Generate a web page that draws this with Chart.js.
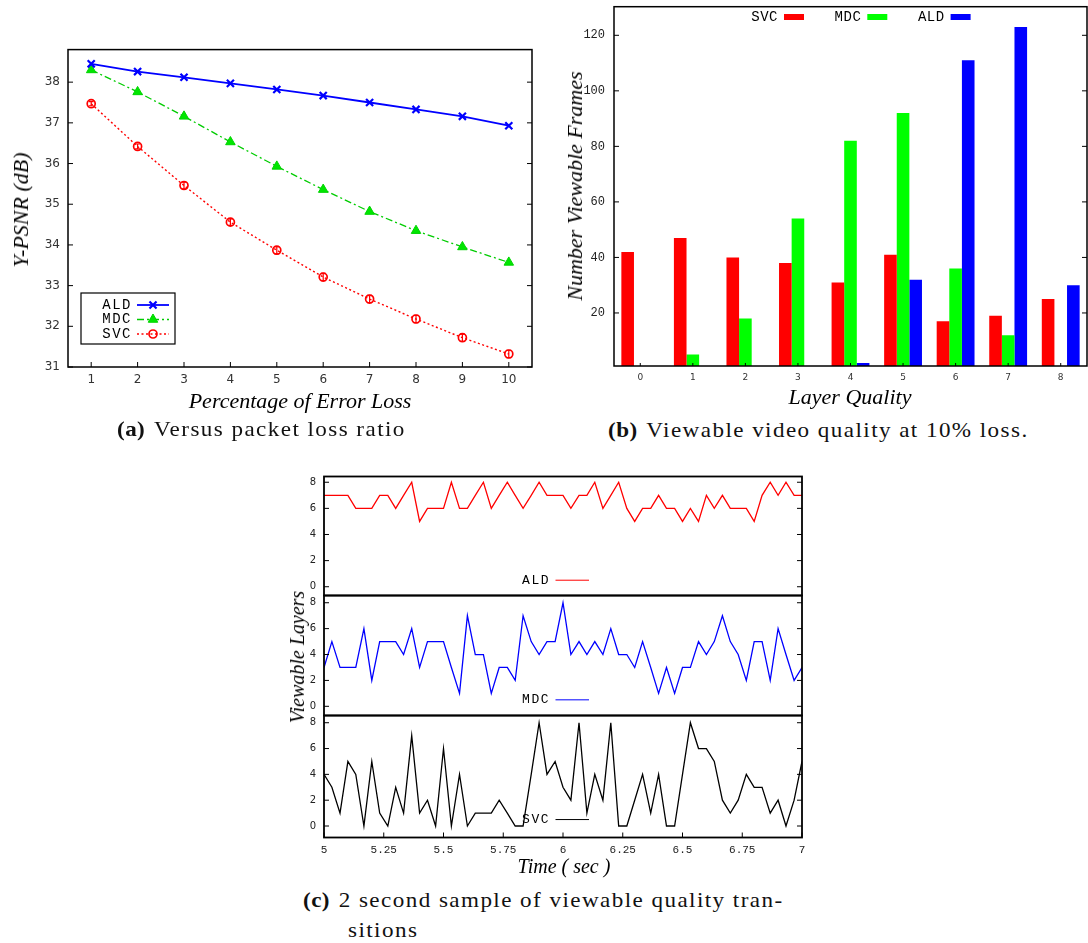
<!DOCTYPE html>
<html>
<head>
<meta charset="utf-8">
<title>Layered video quality under loss</title>
<script src="https://cdn.jsdelivr.net/npm/chart.js@4.4.1/dist/chart.umd.min.js"></script>
<style>
  body { margin: 0; background: #fff; }
  #page { position: relative; width: 1088px; height: 943px; overflow: hidden; }
  canvas { position: absolute; }
  .title { position: absolute; font-family: "Liberation Serif", serif; font-style: italic; white-space: nowrap; color: #000; line-height: 1; transform: translate(-50%, -50%); }
  .title.v { transform: translate(-50%, -50%) rotate(-90deg); }
  .cap { position: absolute; font-family: "Liberation Serif", serif; font-size: 21px; line-height: 1; letter-spacing: 1.3px; white-space: nowrap; color: #111; transform: scaleX(1.1); transform-origin: 0 0; }
  .cap b { letter-spacing: 0.4px; margin-right: 8px; }
</style>
</head>
<body>
<div id="page">
  <canvas id="psnr" width="545" height="370" style="left:0;top:40px"></canvas>
  <canvas id="frames" width="528" height="410" style="left:560px;top:0"></canvas>
  <canvas id="layers" width="530" height="400" style="left:280px;top:470px"></canvas>

  <div class="title v" style="left:21px;top:210px;font-size:22px">Y-PSNR (dB)</div>
  <div class="title" style="left:300px;top:401px;font-size:22px">Percentage of Error Loss</div>
  <div class="title v" style="left:575px;top:186px;font-size:22px">Number Viewable Frames</div>
  <div class="title" style="left:850px;top:397px;font-size:22px">Layer Quality</div>
  <div class="title v" style="left:297px;top:657px;font-size:20px">Viewable Layers</div>
  <div class="title" style="left:564px;top:866px;font-size:20px">Time ( sec )</div>

  <div class="cap" style="left:117px;top:419px"><b>(a)</b>Versus packet loss ratio</div>
  <div class="cap" style="left:608px;top:420px"><b>(b)</b>Viewable video quality at 10% loss.</div>
  <div class="cap" style="left:303px;top:890px"><b>(c)</b>2 second sample of viewable quality tran-</div>
  <div class="cap" style="left:348px;top:920px">sitions</div>
</div>

<script>
// (a) Y-PSNR against error loss
const lossPct = [1, 2, 3, 4, 5, 6, 7, 8, 9, 10];
const psnrALD = [38.45, 38.26, 38.12, 37.97, 37.82, 37.67, 37.50, 37.33, 37.16, 36.93];
const psnrMDC = [38.30, 37.76, 37.16, 36.53, 35.93, 35.36, 34.82, 34.35, 33.95, 33.57];
const psnrSVC = [37.47, 36.42, 35.46, 34.56, 33.87, 33.21, 32.67, 32.18, 31.72, 31.32];
const psnrSVCErr = [0.05, 0.06, 0.08, 0.08, 0.09, 0.09, 0.09, 0.09, 0.09, 0.09];
const psnrTicks = [31, 32, 33, 34, 35, 36, 37, 38];

// (b) viewable frames per layer at 10% loss
const layerQuality = ['0', '1', '2', '3', '4', '5', '6', '7', '8'];
const framesSVC = [42, 47, 40, 38, 31, 41, 17, 19, 25];
const framesMDC = [0, 5, 18, 54, 82, 92, 36, 12, 0];
const framesALD = [0, 0, 0, 0, 2, 32, 111, 123, 30];
const frameTicks = [20, 40, 60, 80, 100, 120];

// (c) viewable layers over a 2 second window
const sampleTimes = [
  5.000, 5.033, 5.067, 5.100, 5.133, 5.167, 5.200, 5.233, 5.267, 5.300,
  5.333, 5.367, 5.400, 5.433, 5.467, 5.500, 5.533, 5.567, 5.600, 5.633,
  5.667, 5.700, 5.733, 5.767, 5.800, 5.833, 5.867, 5.900, 5.933, 5.967,
  6.000, 6.033, 6.067, 6.100, 6.133, 6.167, 6.200, 6.233, 6.267, 6.300,
  6.333, 6.367, 6.400, 6.433, 6.467, 6.500, 6.533, 6.567, 6.600, 6.633,
  6.667, 6.700, 6.733, 6.767, 6.800, 6.833, 6.867, 6.900, 6.933, 6.967,
  7.000
];
const layersALD = [
  7, 7, 7, 7, 6, 6, 6, 7, 7, 6,
  7, 8, 5, 6, 6, 6, 8, 6, 6, 7,
  8, 6, 7, 8, 7, 6, 7, 8, 7, 7,
  7, 6, 7, 7, 8, 6, 7, 8, 6, 5,
  6, 6, 7, 6, 6, 5, 6, 5, 7, 6,
  7, 6, 6, 6, 5, 7, 8, 7, 8, 7,
  7
];
const layersMDC = [
  3, 5, 3, 3, 3, 6, 2, 5, 5, 5,
  4, 6, 3, 5, 5, 5, 3, 1, 7, 4,
  4, 1, 3, 3, 2, 7, 5, 4, 5, 5,
  8, 4, 5, 4, 5, 4, 6, 4, 4, 3,
  5, 3, 1, 3, 1, 3, 3, 5, 4, 5,
  7, 5, 4, 2, 5, 5, 2, 6, 4, 2,
  3
];
const layersSVC = [
  4, 3, 1, 5, 4, 0, 5, 1, 0, 3,
  1, 7, 1, 2, 0, 6, 0, 4, 0, 1,
  1, 1, 2, 1, 0, 0, 4, 8, 4, 5,
  3, 2, 8, 1, 4, 2, 8, 0, 0, 2,
  4, 1, 4, 0, 0, 4, 8, 6, 6, 5,
  2, 1, 2, 4, 3, 3, 1, 2, 0, 2,
  5
];
const timeTicks = [5, 5.25, 5.5, 5.75, 6, 6.25, 6.5, 6.75, 7];
const layerTicks = [0, 2, 4, 6, 8];

const RED = '#ff0000', GREEN = '#00ff00', BLUE = '#0000ff';

Chart.defaults.animation = false;
Chart.defaults.color = '#222';

function points(xs, ys) {
  return xs.map((x, i) => ({ x: x, y: ys[i] }));
}
function fixedTicks(list) {
  return s => { s.ticks = list.map(v => ({ value: v })); };
}
// fixed axis thickness, and no extra room for labels hanging past the ends
function axisSize(size) {
  return s => {
    if (s.isHorizontal()) s.height = size; else s.width = size;
    s.paddingTop = s.paddingBottom = s.paddingLeft = s.paddingRight = 0;
  };
}

// gnuplot style box: border round every y panel, ticks pointing inwards
const frame = {
  id: 'frame',
  afterDatasetsDraw(chart, args, opts) {
    const ctx = chart.ctx, a = chart.chartArea;
    ctx.save();
    ctx.strokeStyle = '#000';
    ctx.lineWidth = 1;
    Object.values(chart.scales).forEach(s => {
      s.ticks.forEach(t => {
        const p = s.getPixelForValue(t.value);
        ctx.beginPath();
        if (s.isHorizontal()) {
          ctx.moveTo(p, a.bottom);
          ctx.lineTo(p, a.bottom - opts.xLen);
        } else {
          ctx.moveTo(a.left, p);
          ctx.lineTo(a.left + opts.yLen, p);
          ctx.moveTo(a.right, p);
          ctx.lineTo(a.right - opts.yLen, p);
        }
        ctx.stroke();
      });
    });
    ctx.lineWidth = opts.border;
    Object.values(chart.scales).forEach(s => {
      if (!s.isHorizontal()) ctx.strokeRect(a.left, s.top, a.right - a.left, s.bottom - s.top);
    });
    ctx.restore();
  }
};

const errorBars = {
  id: 'errorBars',
  afterDatasetsDraw(chart) {
    const ctx = chart.ctx, x = chart.scales.x, y = chart.scales.y;
    chart.data.datasets.forEach(ds => {
      if (!ds.errors) return;
      ctx.save();
      ctx.strokeStyle = ds.borderColor;
      ctx.lineWidth = 1.2;
      ds.data.forEach((p, j) => {
        const px = x.getPixelForValue(p.x);
        const lo = y.getPixelForValue(p.y - ds.errors[j]);
        const hi = y.getPixelForValue(p.y + ds.errors[j]);
        ctx.beginPath();
        ctx.moveTo(px, lo); ctx.lineTo(px, hi);
        ctx.moveTo(px - 2.5, lo); ctx.lineTo(px + 2.5, lo);
        ctx.moveTo(px - 2.5, hi); ctx.lineTo(px + 2.5, hi);
        ctx.stroke();
      });
      ctx.restore();
    });
  }
};

// boxed key: label, line sample and marker
const psnrKey = {
  id: 'psnrKey',
  afterDraw(chart) {
    const ctx = chart.ctx;
    ctx.save();
    ctx.fillStyle = '#fff';
    ctx.fillRect(81, 253, 94, 51);
    ctx.strokeStyle = '#000';
    ctx.lineWidth = 1.2;
    ctx.strokeRect(81, 253, 94, 51);
    ctx.font = '14px "Liberation Mono"';
    ctx.letterSpacing = '1.5px';
    ctx.textAlign = 'right';
    ctx.textBaseline = 'middle';
    chart.data.datasets.forEach((ds, i) => {
      const y = 265 + i * 14.5;
      ctx.fillStyle = '#000';
      ctx.fillText(ds.label, 132, y);
      ctx.strokeStyle = ds.borderColor;
      ctx.lineWidth = ds.borderWidth;
      ctx.setLineDash(ds.borderDash || []);
      ctx.beginPath();
      ctx.moveTo(137, y); ctx.lineTo(169, y);
      ctx.stroke();
      ctx.setLineDash([]);
      ctx.fillStyle = ds.pointBackgroundColor;
      ctx.strokeStyle = ds.pointBorderColor;
      ctx.lineWidth = ds.pointBorderWidth;
      Chart.helpers.drawPoint(ctx, { pointStyle: ds.pointStyle, radius: ds.pointRadius, borderWidth: ds.pointBorderWidth, rotation: 0 }, 153, y);
    });
    ctx.restore();
  }
};

// key along the top: label then a filled swatch
const barKey = {
  id: 'barKey',
  afterDraw(chart) {
    const ctx = chart.ctx;
    ctx.save();
    ctx.font = '14px "Liberation Mono"';
    ctx.letterSpacing = '0.5px';
    ctx.textAlign = 'right';
    ctx.textBaseline = 'middle';
    chart.data.datasets.forEach((ds, i) => {
      const x = 218 + i * 83.3;
      ctx.fillStyle = '#000';
      ctx.fillText(ds.label, x, 17);
      ctx.fillStyle = ds.backgroundColor;
      ctx.fillRect(x + 6, 14, 20, 6);
    });
    ctx.restore();
  }
};

// one key per stacked panel, near the bottom of that panel
const panelKey = {
  id: 'panelKey',
  afterDraw(chart) {
    const ctx = chart.ctx;
    ctx.save();
    ctx.font = '13px "Liberation Mono"';
    ctx.letterSpacing = '1.5px';
    ctx.textAlign = 'right';
    ctx.textBaseline = 'middle';
    chart.data.datasets.forEach(ds => {
      const y = chart.scales[ds.yAxisID].getPixelForValue(0.5);
      ctx.fillStyle = '#000';
      ctx.fillText(ds.label, 270, y);
      ctx.strokeStyle = ds.borderColor;
      ctx.lineWidth = ds.borderWidth;
      ctx.beginPath();
      ctx.moveTo(275.5, y); ctx.lineTo(309, y);
      ctx.stroke();
    });
    ctx.restore();
  }
};

const noGrid = { display: false, drawTicks: false };
const noBorder = { display: false };

new Chart(document.getElementById('psnr'), {
  type: 'line',
  data: {
    datasets: [
      { label: 'ALD', data: points(lossPct, psnrALD), borderColor: BLUE, borderWidth: 1.8,
        pointStyle: 'crossRot', pointRadius: 5, pointBorderWidth: 2.2,
        pointBorderColor: BLUE, pointBackgroundColor: BLUE },
      { label: 'MDC', data: points(lossPct, psnrMDC), borderColor: '#00cc00', borderWidth: 1.3,
        borderDash: [7, 3, 2, 3], pointStyle: 'triangle', pointRadius: 5.5, pointBorderWidth: 1,
        pointBorderColor: '#00d400', pointBackgroundColor: '#00e600' },
      { label: 'SVC', data: points(lossPct, psnrSVC), errors: psnrSVCErr, borderColor: RED, borderWidth: 1.4,
        borderDash: [2, 2.5], pointStyle: 'circle', pointRadius: 4, pointBorderWidth: 1.7,
        pointBorderColor: RED, pointBackgroundColor: 'rgba(0,0,0,0)' }
    ]
  },
  options: {
    responsive: false,
    devicePixelRatio: 1,
    layout: { padding: { top: 9.6, right: 13, left: 0, bottom: 0 } },
    plugins: {
      legend: { display: false },
      tooltip: { enabled: false },
      frame: { xLen: 5, yLen: 5, border: 1.5 }
    },
    scales: {
      x: {
        type: 'linear', min: 0.5, max: 10.5,
        afterBuildTicks: fixedTicks(lossPct),
        afterFit: axisSize(43),
        grid: noGrid, border: noBorder,
        ticks: { padding: 6, color: '#333', font: { family: 'DejaVu Sans', size: 12 } }
      },
      y: {
        min: 31, max: 38.8,
        afterBuildTicks: fixedTicks(psnrTicks),
        afterFit: axisSize(68),
        grid: noGrid, border: noBorder,
        ticks: { padding: 8, color: '#333', font: { family: 'DejaVu Sans', size: 12 } }
      }
    }
  },
  plugins: [errorBars, frame, psnrKey]
});

new Chart(document.getElementById('frames'), {
  type: 'bar',
  data: {
    labels: layerQuality,
    datasets: [
      { label: 'SVC', data: framesSVC, backgroundColor: RED },
      { label: 'MDC', data: framesMDC, backgroundColor: GREEN },
      { label: 'ALD', data: framesALD, backgroundColor: BLUE }
    ]
  },
  options: {
    responsive: false,
    devicePixelRatio: 1,
    layout: { padding: { top: 6.7, right: 1, left: 0, bottom: 0 } },
    datasets: { bar: { categoryPercentage: 0.72, barPercentage: 1, borderWidth: 0 } },
    plugins: {
      legend: { display: false },
      tooltip: { enabled: false },
      frame: { xLen: 3, yLen: 5, border: 1.5 }
    },
    scales: {
      x: {
        afterFit: axisSize(44),
        grid: noGrid, border: noBorder,
        ticks: { padding: 6, color: '#333', font: { family: 'DejaVu Sans', size: 9 } }
      },
      y: {
        min: 0.9, max: 130.3,
        afterBuildTicks: fixedTicks(frameTicks),
        afterFit: axisSize(54),
        grid: noGrid, border: noBorder,
        ticks: { padding: 9, color: '#222', font: { family: 'Liberation Mono', size: 12 } }
      }
    }
  },
  plugins: [frame, barKey]
});

const panelY = (min, max, weight) => ({
  stack: 'layers', stackWeight: weight, position: 'left', min: min, max: max,
  afterBuildTicks: fixedTicks(layerTicks),
  afterFit: axisSize(44),
  grid: noGrid, border: noBorder,
  ticks: { padding: 8, color: '#222', font: { family: 'DejaVu Sans', size: 10 } }
});

new Chart(document.getElementById('layers'), {
  type: 'line',
  data: {
    datasets: [
      { label: 'ALD', yAxisID: 'yALD', data: points(sampleTimes, layersALD), borderColor: RED },
      { label: 'MDC', yAxisID: 'yMDC', data: points(sampleTimes, layersMDC), borderColor: BLUE },
      { label: 'SVC', yAxisID: 'ySVC', data: points(sampleTimes, layersSVC), borderColor: '#000' }
    ]
  },
  options: {
    responsive: false,
    devicePixelRatio: 1,
    layout: { padding: { top: 6.5, right: 8, left: 0, bottom: 0 } },
    elements: { line: { borderWidth: 1.3, tension: 0 }, point: { radius: 0 } },
    plugins: {
      legend: { display: false },
      tooltip: { enabled: false },
      frame: { xLen: 5, yLen: 5, border: 1.8 }
    },
    scales: {
      x: {
        type: 'linear', min: 5, max: 7,
        afterBuildTicks: fixedTicks(timeTicks),
        afterFit: axisSize(32.5),
        grid: noGrid, border: noBorder,
        ticks: { padding: 6, color: '#222', font: { family: 'Liberation Mono', size: 11 }, callback: v => String(v) }
      },
      ySVC: panelY(-0.89, 8.56, 122),
      yMDC: panelY(-0.71, 8.56, 120),
      yALD: panelY(-0.67, 8.44, 119)
    }
  },
  plugins: [frame, panelKey]
});
</script>
</body>
</html>
